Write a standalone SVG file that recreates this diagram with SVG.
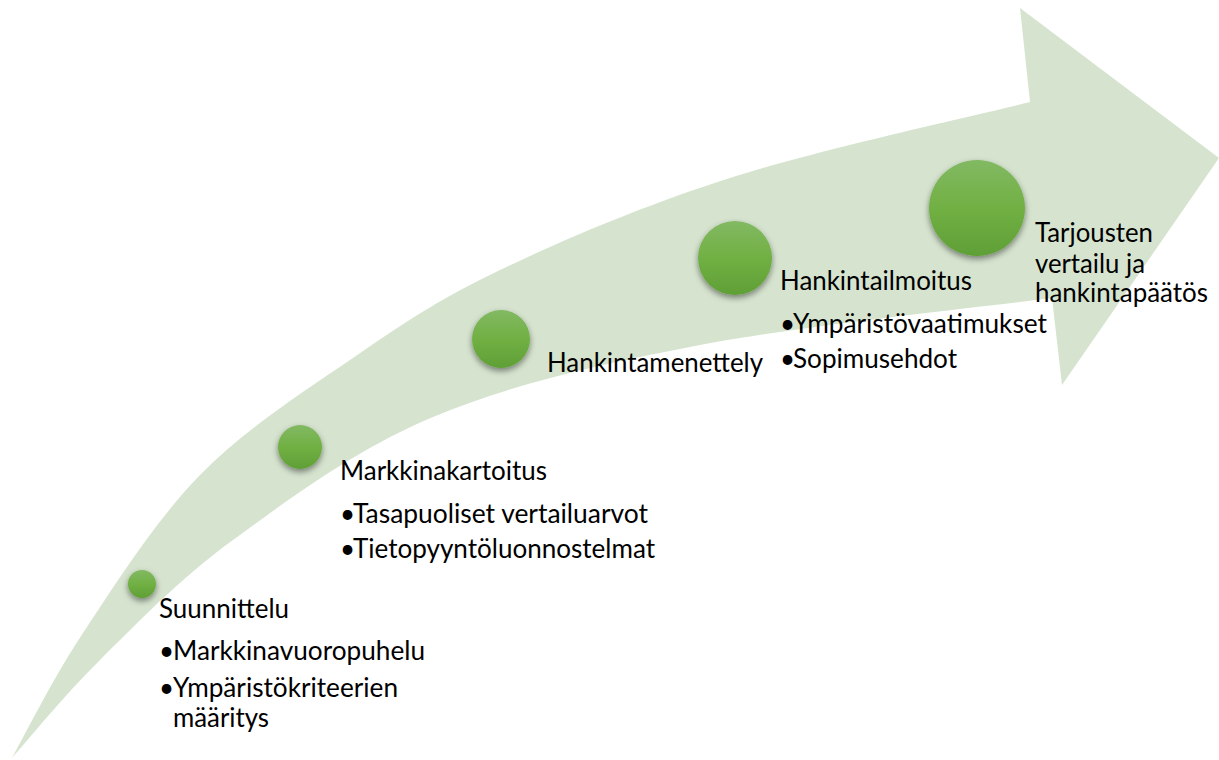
<svg xmlns="http://www.w3.org/2000/svg" width="1219" height="760" viewBox="0 0 1219 760">
<defs>
<linearGradient id="g" x1="0" y1="0" x2="0" y2="1">
<stop offset="0" stop-color="#82b963"/>
<stop offset="0.5" stop-color="#71b043"/>
<stop offset="1" stop-color="#5f9f36"/>
</linearGradient>
<filter id="sh" x="-50%" y="-50%" width="200%" height="200%">
<feDropShadow dx="0" dy="3" stdDeviation="3" flood-color="#000" flood-opacity="0.45"/>
</filter>
<style>
.dot{fill:url(#g);filter:url(#sh)}
.t{font-family:Lato,"Open Sans","Liberation Sans",sans-serif;font-size:26px;fill:#000}
</style>
</defs>
<rect width="1219" height="760" fill="#fff"/>
<g id="arrow">
<path fill="#d6e4cf" d="M12 758 C23.8 737.2 51.7 680.2 83 633 C114.3 585.8 155.5 520.5 200 475 C244.5 429.5 300 394.2 350 360 C400 325.8 436.2 300.5 500 270 C563.8 239.5 644.7 205 733 177 C821.3 149 980.5 114.5 1030 102 L1020 8 L1219 158 L1062 385 L1052 298 C993.3 305.8 803.2 325.2 700 345 C596.8 364.8 510.8 384.5 433 417 C355.2 449.5 288.5 499.5 233 540 C177.5 580.5 136.8 623.7 100 660 C63.2 696.3 26.7 741.7 12 758 Z"/>
</g>
<g id="connectors"></g>
<g id="node-suunnittelu">
<circle class="dot" cx="142" cy="584" r="14"/>
<text class="t" x="159" y="618" textLength="130" lengthAdjust="spacingAndGlyphs">Suunnittelu</text>
<text class="t" y="660"><tspan x="159">•</tspan><tspan x="173" textLength="252" lengthAdjust="spacingAndGlyphs">Markkinavuoropuhelu</tspan></text>
<text class="t" y="697"><tspan x="159">•</tspan><tspan x="173" textLength="225" lengthAdjust="spacingAndGlyphs">Ympäristökriteerien</tspan></text>
<text class="t" x="173" y="727" textLength="96" lengthAdjust="spacingAndGlyphs">määritys</text>
</g>
<g id="node-markkinakartoitus">
<circle class="dot" cx="300" cy="447" r="22"/>
<text class="t" x="340" y="480" textLength="207" lengthAdjust="spacingAndGlyphs">Markkinakartoitus</text>
<text class="t" y="523"><tspan x="340">•</tspan><tspan x="353" textLength="295" lengthAdjust="spacingAndGlyphs">Tasapuoliset vertailuarvot</tspan></text>
<text class="t" y="558"><tspan x="340">•</tspan><tspan x="353" textLength="302" lengthAdjust="spacingAndGlyphs">Tietopyyntöluonnostelmat</tspan></text>
</g>
<g id="node-hankintamenettely">
<circle class="dot" cx="501" cy="339" r="29"/>
<text class="t" x="547" y="372" textLength="216" lengthAdjust="spacingAndGlyphs">Hankintamenettely</text>
</g>
<g id="node-hankintailmoitus">
<circle class="dot" cx="735" cy="258" r="37"/>
<text class="t" x="780" y="290" textLength="192" lengthAdjust="spacingAndGlyphs">Hankintailmoitus</text>
<text class="t" y="333"><tspan x="780">•</tspan><tspan x="793" textLength="254" lengthAdjust="spacingAndGlyphs">Ympäristövaatimukset</tspan></text>
<text class="t" y="368"><tspan x="780">•</tspan><tspan x="793" textLength="164" lengthAdjust="spacingAndGlyphs">Sopimusehdot</tspan></text>
</g>
<g id="node-tarjousten">
<circle class="dot" cx="977" cy="208" r="48"/>
<text class="t" x="1035" y="242" textLength="118" lengthAdjust="spacingAndGlyphs">Tarjousten</text>
<text class="t" x="1035" y="273" textLength="110" lengthAdjust="spacingAndGlyphs">vertailu ja</text>
<text class="t" x="1035" y="302" textLength="173" lengthAdjust="spacingAndGlyphs">hankintapäätös</text>
</g>
</svg>
